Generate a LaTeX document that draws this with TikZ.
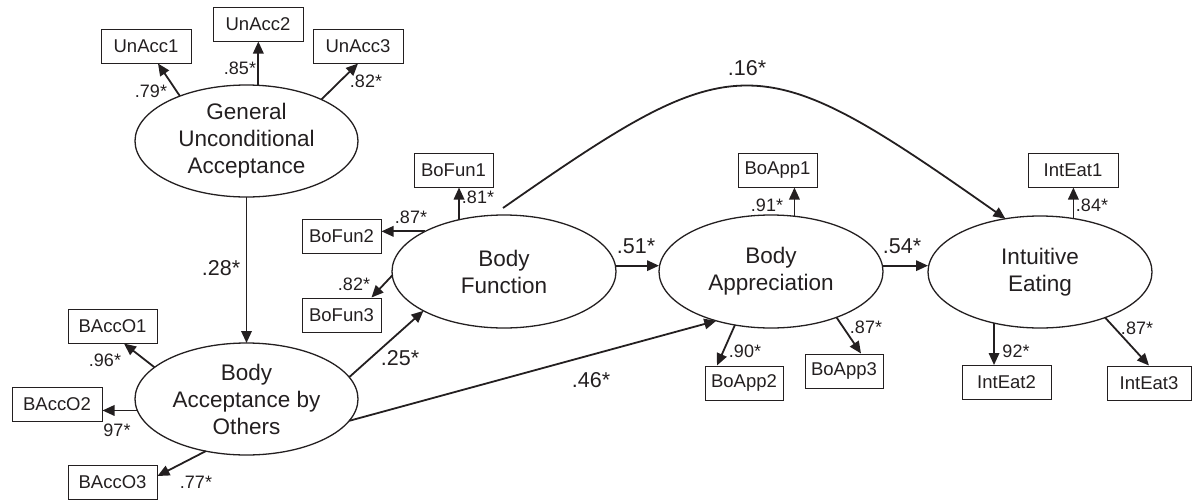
\documentclass[tikz,border=0pt]{standalone}
\usepackage{fontspec}
\setmainfont{Liberation Sans}
\usetikzlibrary{arrows.meta,calc,shapes.geometric}
\definecolor{ink}{HTML}{231F20}
\begin{document}
\begin{tikzpicture}[x=1pt,y=-1pt,
  every node/.style={text=ink},
  lat/.style={ellipse,draw=ink,line width=1.3pt,minimum width=223pt,minimum height=112pt,inner sep=0pt,outer sep=0pt,align=center,font=\fontsize{22.5}{27}\selectfont},
  obs/.style={draw=ink,line width=1pt,minimum height=34pt,inner sep=0pt,font=\fontsize{18.5}{20}\selectfont},
  arr/.style={draw=ink,line width=1.8pt,-{Triangle[length=12pt,width=10.5pt]}},
  lod/.style={inner sep=0pt,font=\fontsize{18}{20}\selectfont},
  pth/.style={inner sep=0pt,font=\fontsize{21.5}{24}\selectfont}]
\useasboundingbox (0,0) rectangle (1195,499);

% latent variables
\node[lat] (GUA) at (246.5,141) {General\\Unconditional\\Acceptance};
\node[lat] (BAO) at (246.5,399) {Body\\Acceptance by\\Others};
\node[lat,minimum width=224pt,minimum height=113pt] (BF) at (504,271.5) {Body\\Function};
\node[lat,minimum width=224pt,minimum height=113pt] (BA) at (771,271.5) {Body\\Appreciation};
\node[lat,minimum width=224pt] (IE) at (1040,272) {Intuitive\\Eating};

% indicators
\node[obs,minimum width=90pt] (UnAcc1) at (146,46) {UnAcc1};
\node[obs,minimum width=90pt] (UnAcc2) at (258,24) {UnAcc2};
\node[obs,minimum width=90pt] (UnAcc3) at (358,46) {UnAcc3};
\node[obs,minimum width=89pt] (BAccO1) at (112.5,326) {BAccO1};
\node[obs,minimum width=90pt] (BAccO2) at (57,404.5) {BAccO2};
\node[obs,minimum width=89pt] (BAccO3) at (112.5,482.5) {BAccO3};
\node[obs,minimum width=79pt] (BoFun1) at (453.5,170) {BoFun1};
\node[obs,minimum width=79pt] (BoFun2) at (341.5,236.5) {BoFun2};
\node[obs,minimum width=79pt] (BoFun3) at (341.5,315) {BoFun3};
\node[obs,minimum width=79pt] (BoApp1) at (777.5,170) {BoApp1};
\node[obs,minimum width=78pt] (BoApp2) at (744,383) {BoApp2};
\node[obs,minimum width=78pt] (BoApp3) at (844,371) {BoApp3};
\node[obs,minimum width=90pt] (IntEat1) at (1073,170) {IntEat1};
\node[obs,minimum width=89pt] (IntEat2) at (1006.5,382.5) {IntEat2};
\node[obs,minimum width=84pt] (IntEat3) at (1149,383) {IntEat3};

% loadings
\draw[arr] (GUA.146.5) -- ($(UnAcc1.south)+(12,0)$);
\draw[arr] (GUA.78.3) -- (GUA.78.3 |- UnAcc2.south);
\draw[arr] (GUA.29.3) -- (UnAcc3.south);
\draw[arr] (BAO.161.6) -- ($(BAccO1.south)+(11.5,0)$);
\draw[arr] (BAO.186.3) -- (BAO.186.3 -| BAccO2.east);
\draw[arr] (BAO.232) -- ($(BAccO3.east)+(0,-6.5)$);
\draw[arr] (BF.131) -- (BF.131 |- BoFun1.south);
\draw[arr] (BF.153.2) -- (BF.153.2 -| BoFun2.east);
\draw[arr] (BF.182) -- ($(BoFun3.north east)+(-10,0)$);
\draw[arr] (BA.67.4) -- (BA.67.4 |- BoApp1.south);
\draw[arr] (BA.236.3) -- ($(BoApp2.north)+(-27,0)$);
\draw[arr] (BA.-35.5) -- ($(BoApp3.north)+(17,0)$);
\draw[arr] (IE.58.3) -- (IE.58.3 |- IntEat1.south);
\draw[arr] (IE.228) -- (IE.228 |- IntEat2.north);
\draw[arr] (IE.-35.6) -- (IntEat3.north);

% structural paths
\draw[arr] (GUA.south) -- (BAO.north);
\draw[arr] (BAO.12.8) -- (BF.206.6);
\draw[arr] (BAO.-12) -- (BA.222);
\draw[arr] (BF.3.8) -- (BF.3.8 -| BA.west);
\draw[arr] (BA.3.8) -- (BA.3.8 -| IE.west);
\draw[arr] ($(BF.north)+(-1,-7)$) .. controls (738,44) and (757,44) .. (IE.123);

% loading labels
\node[lod] (l1) at (151,91) {.79*};
\node[lod] (l2) at (240,68) {.85*};
\node[lod] (l3) at (366,81) {.82*};
\node[lod] (l4) at (105,360) {.96*};
\node[lod] (l5) at (117,430) {97*};
\node[lod] (l6) at (196,482) {.77*};
\node[lod] (l7) at (478,197) {.81*};
\node[lod] (l8) at (411,217) {.87*};
\node[lod] (l9) at (354,284) {.82*};
\node[lod] (l10) at (767,205) {.91*};
\node[lod] (l11) at (745,351) {.90*};
\node[lod] (l12) at (866,327) {.87*};
\node[lod] (l13) at (1092,205) {.84*};
\node[lod] (l14) at (1016,351) {92*};
\node[lod] (l15) at (1137,328) {.87*};

% path labels
\node[pth] (p1) at (221,268) {.28*};
\node[pth] (p2) at (400,358) {.25*};
\node[pth] (p3) at (591,380) {.46*};
\node[pth] (p4) at (636,246) {.51*};
\node[pth] (p5) at (902,246) {.54*};
\node[pth] (p6) at (747,68) {.16*};
\end{tikzpicture}
\end{document}
